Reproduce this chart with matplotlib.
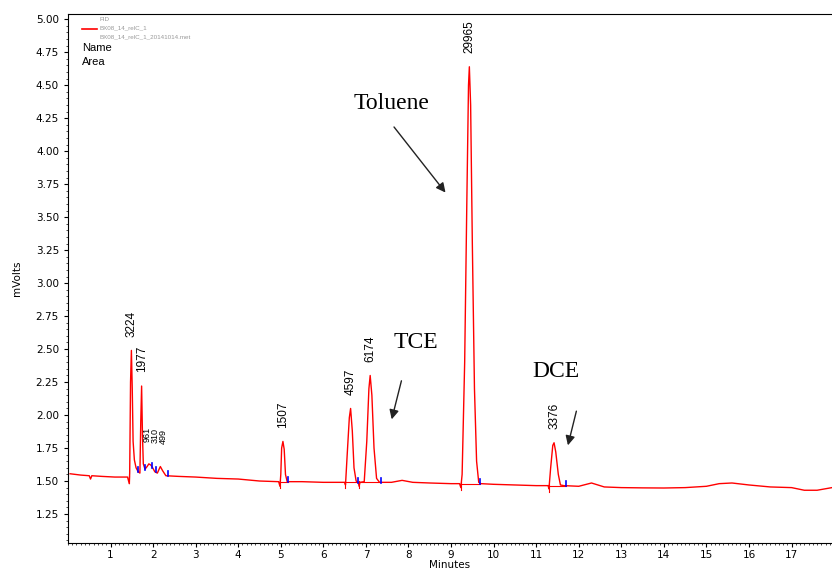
import numpy as np
import matplotlib.pyplot as plt
from matplotlib.ticker import MultipleLocator

# 1. data
time_min = [0.05, 0.30, 0.50, 0.53, 0.56, 0.80, 1.10, 1.40,
            1.44, 1.45, 1.47, 1.49, 1.51, 1.53, 1.56, 1.60, 1.65,
            1.69, 1.71, 1.73, 1.75, 1.77, 1.81,
            1.86, 1.90, 1.95, 1.99, 2.04, 2.10, 2.17, 2.22, 2.30,
            2.60, 3.00, 3.50, 4.00, 4.50, 4.95,
            4.98, 5.00, 5.02, 5.05, 5.08, 5.11, 5.15,
            5.50, 6.00, 6.50,
            6.52, 6.56, 6.61, 6.64, 6.68, 6.72, 6.77, 6.82, 6.84, 6.86,
            6.96, 7.02, 7.07, 7.10, 7.14, 7.19, 7.25, 7.32,
            7.60, 7.85, 8.10, 8.50, 9.00, 9.20,
            9.23, 9.26, 9.32, 9.37, 9.41, 9.43, 9.46, 9.50, 9.55, 9.60, 9.65, 9.70,
            10.0, 10.5, 11.0, 11.28,
            11.30, 11.34, 11.39, 11.42, 11.46, 11.52, 11.57, 11.65,
            12.0, 12.3, 12.6, 13.0, 13.5, 14.0, 14.5, 15.0, 15.3, 15.6, 16.0,
            16.5, 17.0, 17.3, 17.6, 17.95]
signal_mv = [1.555, 1.545, 1.540, 1.515, 1.540, 1.535, 1.530, 1.530,
             1.480, 1.560, 2.250, 2.490, 2.200, 1.800, 1.660, 1.600, 1.570,
             1.560, 1.950, 2.220, 1.850, 1.630, 1.590,
             1.610, 1.630, 1.620, 1.600, 1.570, 1.560, 1.610, 1.580, 1.540,
             1.535, 1.530, 1.520, 1.515, 1.500, 1.495,
             1.460, 1.550, 1.750, 1.800, 1.740, 1.550, 1.495,
             1.495, 1.490, 1.490,
             1.470, 1.700, 1.980, 2.050, 1.880, 1.600, 1.500, 1.490, 1.460, 1.490,
             1.495, 1.800, 2.200, 2.300, 2.150, 1.750, 1.520, 1.490,
             1.490, 1.505, 1.490, 1.485, 1.480, 1.480,
             1.450, 1.550, 2.400, 3.600, 4.500, 4.640, 4.350, 3.300, 2.200, 1.650, 1.490, 1.480,
             1.475, 1.470, 1.465, 1.465,
             1.440, 1.600, 1.770, 1.790, 1.720, 1.550, 1.470, 1.465,
             1.460, 1.485, 1.455, 1.450, 1.448, 1.447, 1.450, 1.460, 1.480, 1.485, 1.470,
             1.455, 1.450, 1.430, 1.430, 1.450]

# peak labels (area counts)
peak_time = [1.49, 1.73, 1.87, 2.05, 2.23, 5.05, 6.64, 7.10, 9.43, 11.42]
peak_height = [2.49, 2.22, 1.63, 1.62, 1.61, 1.80, 2.05, 2.30, 4.64, 1.79]
peak_area = ['3224', '1977', '961', '310', '499', '1507', '4597', '6174', '29965', '3376']

# integration start / end marks
start_time = [1.44, 4.98, 6.52, 6.84, 9.23, 11.30]
start_mv = [1.53, 1.495, 1.49, 1.49, 1.48, 1.465]
end_time = [1.65, 1.82, 1.98, 2.06, 2.34, 5.17, 6.81, 7.36, 9.68, 11.71]
end_mv = [1.57, 1.59, 1.60, 1.57, 1.54, 1.495, 1.49, 1.49, 1.48, 1.465]

# 2. plot
fig = plt.figure(figsize=(8.32, 5.71), dpi=100)
ax = fig.add_axes([0.0817, 0.049, 0.9183, 0.9265])
plt.rcParams['font.family'] = ['Liberation Sans', 'DejaVu Sans']

ax.plot(time_min, signal_mv, color='red', linewidth=1.0)

# integration baselines under the main peaks
for t0, v0, t1, v1 in zip(start_time[1:], start_mv[1:],
                          [5.17, 6.81, 7.36, 9.68, 11.71],
                          [1.495, 1.49, 1.49, 1.48, 1.465]):
    ax.plot([t0, t1], [v0, v1], color='red', linewidth=0.8)
for t, v in zip(start_time, start_mv):
    ax.plot([t, t], [v - 0.045, v + 0.01], color='red', linewidth=0.8)
for t, v in zip(end_time, end_mv):
    ax.plot([t, t], [v - 0.005, v + 0.035], color='blue', linewidth=1.2)

for t, h, a in zip(peak_time, peak_height, peak_area):
    small = a in ('961', '310', '499')
    ax.annotate(a, (t, h), xytext=(0, 16 if small else 10), textcoords='offset points',
                rotation=90, ha='center', va='bottom', fontsize=6.5 if small else 8.5)

# compound names with arrows
serif = ['Liberation Serif', 'DejaVu Serif']
ax.text(7.60, 4.36, 'Toluene', fontsize=17, family=serif, ha='center', va='center')
ax.annotate('', xy=(8.91, 3.67), xytext=(7.62, 4.20),
            arrowprops=dict(arrowstyle='-|>', color='#222222', lw=1, mutation_scale=14))
ax.text(8.18, 2.553, 'TCE', fontsize=17, family=serif, ha='center', va='center')
ax.annotate('', xy=(7.59, 1.947), xytext=(7.85, 2.28),
            arrowprops=dict(arrowstyle='-|>', color='#222222', lw=1, mutation_scale=14))
ax.text(11.47, 2.333, 'DCE', fontsize=17, family=serif, ha='center', va='center')
ax.annotate('', xy=(11.73, 1.75), xytext=(11.96, 2.05),
            arrowprops=dict(arrowstyle='-|>', color='#222222', lw=1, mutation_scale=14))

# header / legend block
ax.plot([0.33, 0.68], [4.93, 4.93], color='red', linewidth=1.2)
ax.text(0.75, 5.00, 'FID', fontsize=4.5, color='#999999', va='center')
ax.text(0.75, 4.935, 'BX08_14_relC_1', fontsize=4.5, color='#999999', va='center')
ax.text(0.75, 4.87, 'BX08_14_relC_1_20141014.met', fontsize=4.5, color='#999999', va='center')
ax.text(0.33, 4.78, 'Name', fontsize=8, va='center')
ax.text(0.33, 4.675, 'Area', fontsize=8, va='center')

# axes
ax.set_xlim(0, 17.95)
ax.set_ylim(1.03, 5.04)
ax.set_xticks(np.arange(1, 18))
ax.set_yticks(np.arange(1.25, 5.01, 0.25))
ax.set_yticklabels(['%.2f' % v for v in np.arange(1.25, 5.01, 0.25)])
ax.xaxis.set_minor_locator(MultipleLocator(0.1))
ax.yaxis.set_minor_locator(MultipleLocator(0.05))
ax.tick_params(labelsize=7.5, length=3, width=0.8)
ax.tick_params(axis='x', pad=2)
ax.tick_params(which='minor', length=1.5, width=0.5)
ax.spines['right'].set_color('none')
ax.set_xlabel('Minutes', fontsize=7.5, labelpad=0)
ax.set_ylabel('mVolts', fontsize=7.5, labelpad=10)

plt.savefig('out.png', dpi=100)
